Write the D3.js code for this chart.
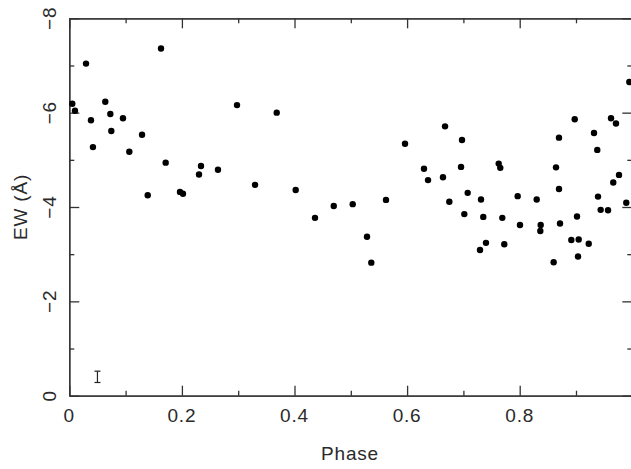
<!DOCTYPE html>
<html>
<head>
<meta charset="utf-8">
<script src="https://cdn.jsdelivr.net/npm/d3@7"></script>
<style>
body { margin: 0; background: #fff; }
svg text { font-family: "Liberation Sans", Arial, sans-serif; fill: #2a2a2a; letter-spacing: 0.8px; }
</style>
</head>
<body>
<svg id="chart" width="631" height="469"></svg>
<script>
// phase and equivalent width
const phase = [0.0053, 0.0101, 0.0297, 0.0385, 0.0420, 0.0639, 0.0729, 0.0746, 0.0953, 0.1066,
  0.1292, 0.1393, 0.1629, 0.1712, 0.1966, 0.2019, 0.2304, 0.2339, 0.2641, 0.2979,
  0.3299, 0.3684, 0.4021, 0.4364, 0.4697, 0.5034, 0.5288, 0.5364, 0.5625, 0.5963,
  0.6300, 0.6372, 0.6674, 0.6975, 0.6637, 0.6958, 0.7627, 0.7655, 0.7076, 0.6750,
  0.7313, 0.7964, 0.7016, 0.7353, 0.7691, 0.8005, 0.7401, 0.7726, 0.7295, 0.9947,
  0.8977, 0.9622, 0.9710, 0.9320, 0.8698, 0.9378, 0.8645, 0.9764, 0.9662, 0.8698,
  0.8302, 0.9391, 0.9893, 0.9438, 0.9569, 0.8373, 0.8366, 0.8716, 0.9018, 0.8917,
  0.9048, 0.9226, 0.8603, 0.9036]
const ew = [-6.19, -6.04, -7.04, -5.84, -5.27, -6.23, -5.97, -5.61, -5.88, -5.17,
  -5.53, -4.25, -7.36, -4.94, -4.32, -4.28, -4.69, -4.87, -4.79, -6.16,
  -4.47, -6.00, -4.36, -3.77, -4.02, -4.06, -3.37, -2.82, -4.15, -5.34,
  -4.81, -4.57, -5.71, -5.42, -4.63, -4.85, -4.92, -4.83, -4.30, -4.11,
  -4.16, -4.23, -3.85, -3.79, -3.77, -3.62, -3.24, -3.21, -3.09, -6.65,
  -5.86, -5.88, -5.77, -5.57, -5.47, -5.21, -4.84, -4.68, -4.52, -4.38,
  -4.16, -4.22, -4.09, -3.94, -3.93, -3.62, -3.49, -3.65, -3.80, -3.30,
  -3.31, -3.22, -2.83, -2.95]

// typical error bar shown in the corner
const errPhase = 0.05
const errEw = -0.4
const errHalf = 0.12

const xMajor = [0, 0.2, 0.4, 0.6, 0.8]
const xMinor = [0.1, 0.3, 0.5, 0.7, 0.9]
const xLabels = ["0", "0.2", "0.4", "0.6", "0.8"]
const yMajor = [0, -2, -4, -6, -8]
const yMinor = [-1, -3, -5, -7]
const yLabels = ["0", "\u22122", "\u22124", "\u22126", "\u22128"]

const svg = d3.select("#chart")
const x = d3.scaleLinear().domain([0, 1]).range([69.3, 632.3])
const y = d3.scaleLinear().domain([0, -8]).range([395.7, 18.3])
const axisColor = "#333"

function styleAxis(g) {
  g.selectAll("path, line").attr("stroke", axisColor).attr("stroke-width", 1.3)
  g.selectAll("text").remove()
}

// bottom and top
svg.append("g").attr("transform", "translate(0," + y(0) + ")")
  .call(d3.axisTop(x).tickValues(xMajor).tickSizeInner(10).tickSizeOuter(0))
  .call(styleAxis)
svg.append("g").attr("transform", "translate(0," + y(0) + ")")
  .call(d3.axisTop(x).tickValues(xMinor).tickSizeInner(5).tickSizeOuter(0))
  .call(styleAxis)
svg.append("g").attr("transform", "translate(0," + y(-8) + ")")
  .call(d3.axisBottom(x).tickValues(xMajor).tickSizeInner(10).tickSizeOuter(0))
  .call(styleAxis)
svg.append("g").attr("transform", "translate(0," + y(-8) + ")")
  .call(d3.axisBottom(x).tickValues(xMinor).tickSizeInner(5).tickSizeOuter(0))
  .call(styleAxis)

// left and right
svg.append("g").attr("transform", "translate(" + x(0) + ",0)")
  .call(d3.axisRight(y).tickValues(yMajor).tickSizeInner(10).tickSizeOuter(0))
  .call(styleAxis)
svg.append("g").attr("transform", "translate(" + x(0) + ",0)")
  .call(d3.axisRight(y).tickValues(yMinor).tickSizeInner(5).tickSizeOuter(0))
  .call(styleAxis)
svg.append("g").attr("transform", "translate(" + x(1) + ",0)")
  .call(d3.axisLeft(y).tickValues(yMajor).tickSizeInner(10).tickSizeOuter(0))
  .call(styleAxis)
svg.append("g").attr("transform", "translate(" + x(1) + ",0)")
  .call(d3.axisLeft(y).tickValues(yMinor).tickSizeInner(5).tickSizeOuter(0))
  .call(styleAxis)

// tick labels
svg.selectAll(".xlab").data(xMajor).enter().append("text")
  .attr("x", d => x(d))
  .attr("y", 422)
  .attr("text-anchor", "middle")
  .attr("font-size", 19)
  .text((d, i) => xLabels[i])

svg.selectAll(".ylab").data(yMajor).enter().append("text")
  .attr("transform", d => "translate(56," + y(d) + ") rotate(-90)")
  .attr("text-anchor", "middle")
  .attr("font-size", 19)
  .text((d, i) => yLabels[i])

svg.append("text")
  .attr("x", 350)
  .attr("y", 460)
  .attr("text-anchor", "middle")
  .attr("font-size", 19)
  .text("Phase")

svg.append("text")
  .attr("transform", "translate(27,207) rotate(-90)")
  .attr("text-anchor", "middle")
  .attr("font-size", 19)
  .text("EW (\u00C5)")

// points
svg.selectAll("circle").data(phase).enter().append("circle")
  .attr("cx", d => x(d))
  .attr("cy", (d, i) => y(ew[i]))
  .attr("r", 3.2)
  .attr("fill", "black")

// error bar
const eb = svg.append("g").attr("stroke", "#222").attr("stroke-width", 1.2)
eb.append("line")
  .attr("x1", x(errPhase)).attr("x2", x(errPhase))
  .attr("y1", y(errEw - errHalf)).attr("y2", y(errEw + errHalf))
eb.append("line")
  .attr("x1", x(errPhase) - 3).attr("x2", x(errPhase) + 3)
  .attr("y1", y(errEw - errHalf)).attr("y2", y(errEw - errHalf))
eb.append("line")
  .attr("x1", x(errPhase) - 3).attr("x2", x(errPhase) + 3)
  .attr("y1", y(errEw + errHalf)).attr("y2", y(errEw + errHalf))
</script>
</body>
</html>
